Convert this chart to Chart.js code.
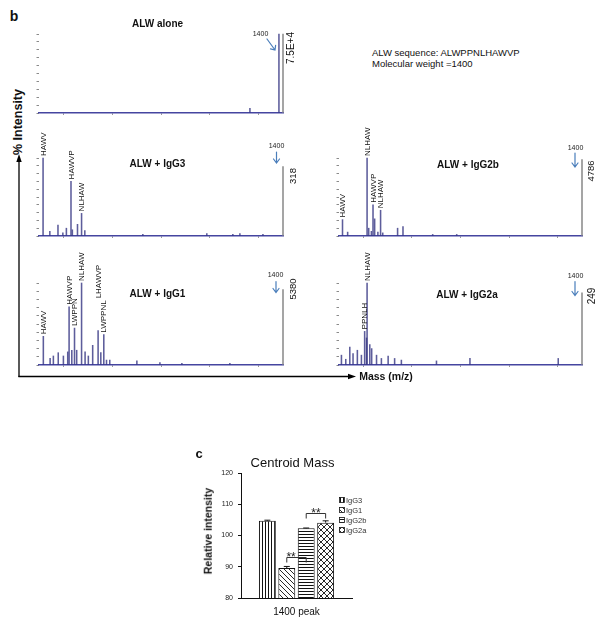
<!DOCTYPE html>
<html><head><meta charset="utf-8">
<script src="https://cdn.jsdelivr.net/npm/chart.js@4"></script>
<style>
html,body{margin:0;padding:0;background:#fff;}
#fig{position:relative;width:602px;height:625px;overflow:hidden;font-family:"Liberation Sans",Arial,sans-serif;background:#fff;}
canvas{position:absolute;}
.t{position:absolute;white-space:nowrap;line-height:1;color:#111;}
</style></head>
<body><div id="fig">
<svg style="position:absolute;left:0;top:0" width="602" height="625">
<line x1="19" y1="160" x2="19" y2="377" stroke="#000" stroke-width="1.3"/>
<polygon points="19,154 16.3,162 21.7,162" fill="#000"/>
<line x1="18.4" y1="376.5" x2="350" y2="376.5" stroke="#000" stroke-width="1.3"/>
<polygon points="356,376.5 348,373.8 348,379.2" fill="#000"/>
</svg>
</div>
<script>
// ---------- data ----------
const massTicks = [500, 680, 860, 1040, 1220, 1400];

const alwAloneMz  = [1278, 1385, 1400];
const alwAloneInt = [6, 100, 100];

const igg3Mz  = [515, 540, 570, 588, 601, 618, 623, 642, 657, 669, 883, 1119, 1215, 1241, 1326, 1400];
const igg3Int = [100, 6, 14, 4, 10, 70, 8, 15, 29, 7, 2, 3, 2, 3, 2, 89];
const igg3LabelNames = ['HAWV', 'HAWVP', 'NLHAW'];
const igg3LabelMz    = [515, 618, 657];

const igg2bMz  = [513, 532, 604, 610, 620, 626, 632, 644, 654, 662, 717, 737, 847, 936, 1400];
const igg2bInt = [21, 5, 100, 10, 6, 40, 22, 5, 33, 4, 10, 12, 2, 2, 98];
const igg2bLabelNames = ['HAWV', 'NLHAW', 'HAWVP', 'NLHAW'];
const igg2bLabelMz    = [513, 604, 626, 654];

const igg1Mz  = [516, 541, 553, 571, 590, 606, 611, 621, 631, 639, 657, 670, 682, 698, 718, 728, 739, 749, 761, 861, 946, 1027, 1204, 1400];
const igg1Int = [35, 8, 11, 15, 11, 16, 71, 18, 45, 18, 100, 16, 11, 24, 42, 15, 37, 6, 6, 5, 3, 2, 2, 92];
const igg1LabelNames = ['HAWV', 'HAWVP', 'LWPPN', 'NLHAW', 'LHAWVP', 'LWPPNL'];
const igg1LabelMz    = [516, 611, 631, 657, 718, 739];

const igg2aMz  = [509, 525, 540, 552, 568, 583, 595, 602, 604, 614, 621, 639, 657, 682, 706, 731, 861, 985, 1312, 1400];
const igg2aInt = [12, 7, 22, 14, 18, 12, 41, 33, 100, 25, 20, 12, 8, 11, 8, 6, 5, 8, 8, 88];
const igg2aLabelNames = ['PPNLH', 'NLHAW'];
const igg2aLabelMz    = [595, 604];

const barCategories = ['1400 peak'];
const barSeries = ['IgG3', 'IgG1', 'IgG2b', 'IgG2a'];
const barValues = [104.7, 89.6, 102.3, 104.1];
const barErrors = [0.2, 0.5, 0.1, 0.6];
const barTicks  = [80, 90, 100, 110, 120];
const sigPairs  = [[1, 2], [2, 3]];
const sigMarks  = ['**', '**'];
const sigLevels = [93.2, 107.2];

// ---------- helpers ----------
const FONT = '"Liberation Sans", Arial, sans-serif';
Chart.defaults.font.family = FONT;
Chart.defaults.color = '#111';
const fig = document.getElementById('fig');

function txt(s, x, y, size, weight, opts) {
  opts = opts || {};
  const d = document.createElement('div');
  d.className = 't'; d.textContent = s;
  d.style.left = x + 'px'; d.style.top = y + 'px';
  d.style.fontSize = size + 'px'; d.style.fontWeight = weight || 'normal';
  let tr = opts.align === 'left' ? 'translate(0,-50%)' : 'translate(-50%,-50%)';
  if (opts.rot) tr += ' rotate(-90deg)';
  d.style.transform = tr;
  fig.appendChild(d);
}

function makeCanvas(left, top, w, h) {
  const cv = document.createElement('canvas');
  cv.width = w; cv.height = h;
  cv.style.left = left + 'px'; cv.style.top = top + 'px';
  cv.style.width = w + 'px'; cv.style.height = h + 'px';
  fig.appendChild(cv);
  return cv;
}

// ---------- spectra ----------
function spectrum(p) {
  const padTop = 33, padRight = 25, yW = 10, xH = 6;
  const w = Math.round(p.right - p.left) + yW + padRight;
  const h = Math.round(p.bottom - p.top) + padTop + xH;
  const cv = makeCanvas(p.left - yW, p.top - padTop, w, h);

  const anno = {
    id: 'specAnno',
    afterDatasetsDraw(chart) {
      const ctx = chart.ctx, xs = chart.scales.x, ys = chart.scales.y;
      const pts = chart.data.datasets[0].data;
      ctx.save();
      ctx.font = '8px ' + FONT;
      ctx.fillStyle = '#111';
      ctx.textAlign = 'left';
      ctx.textBaseline = 'middle';
      const items = p.names.map((n, i) => {
        const pt = pts.find(d => d.x === p.lmz[i]);
        return { n, x: xs.getPixelForValue(pt.x), top: ys.getPixelForValue(pt.y) };
      }).sort((a, b) => b.x - a.x);
      const placed = [];
      items.forEach(it => {
        const tw = ctx.measureText(it.n).width;
        let bottom = it.top - 2, moved = true, guard = 0;
        while (moved && guard++ < 10) {
          moved = false;
          for (const q of placed) {
            if (Math.abs(q.x - it.x) < 7) {
              const ov = Math.min(bottom, q.bottom) - Math.max(bottom - tw, q.bottom - q.w);
              if (ov > 8) { bottom = q.bottom - q.w - 2; moved = true; }
            }
          }
        }
        placed.push({ x: it.x, bottom, w: tw });
        ctx.save();
        ctx.translate(it.x + 0.5, bottom);
        ctx.rotate(-Math.PI / 2);
        ctx.fillText(it.n, 0, 0);
        ctx.restore();
      });
      // 1400 arrow
      const a = p.arrow, x = xs.getPixelForValue(1400), t = chart.chartArea.top;
      ctx.strokeStyle = '#4a7ebb'; ctx.lineWidth = 1.2; ctx.lineCap = 'round';
      ctx.beginPath();
      if (a.diag) {
        const x1 = x - 16, y1 = t + 5, x2 = x - 8, y2 = t + 16;
        ctx.moveTo(x1, y1); ctx.lineTo(x2, y2);
        ctx.moveTo(x2 - 4.5, y2 - 1.2); ctx.lineTo(x2, y2); ctx.lineTo(x2 + 0.6, y2 - 4.6);
      } else {
        const ax = x + a.dx;
        ctx.moveTo(ax, t + a.y1); ctx.lineTo(ax, t + a.y2);
        ctx.moveTo(ax - 3, t + a.y2 - 4); ctx.lineTo(ax, t + a.y2); ctx.lineTo(ax + 3, t + a.y2 - 4);
      }
      ctx.stroke();
      ctx.fillStyle = '#222';
      ctx.font = '7px ' + FONT;
      ctx.textAlign = 'center';
      ctx.fillText('1400', x + a.lx, t + a.ly);
      ctx.restore();
    }
  };

  new Chart(cv, {
    type: 'bar',
    data: {
      datasets: [{
        data: p.mz.map((m, i) => ({ x: m, y: p.int[i] })),
        backgroundColor: c => (c.raw && c.raw.x >= 1400) ? '#8c8c8c' : 'rgba(52,52,130,0.8)',
        barThickness: 0.9,
        borderWidth: 0,
        clip: false
      }]
    },
    options: {
      responsive: false, animation: false, events: [],
      layout: { padding: { top: padTop, right: padRight, left: 0, bottom: 0 } },
      plugins: { legend: { display: false }, tooltip: { enabled: false } },
      scales: {
        x: {
          type: 'linear', min: 500, max: 1400, offset: false,
          afterBuildTicks: s => { s.ticks = massTicks.map(v => ({ value: v })); },
          afterFit: s => { s.height = xH; },
          grid: { display: true, drawOnChartArea: false, drawTicks: true, tickLength: 2, color: '#9a9a9a' },
          border: { display: true, color: '#4545a0', width: 1.4 },
          ticks: { display: false }
        },
        y: {
          min: 0, max: 100,
          afterBuildTicks: s => { const t = []; for (let v = 0; v <= 100; v += 10) t.push({ value: v }); s.ticks = t; },
          afterFit: s => { s.width = yW; },
          grid: { display: true, drawOnChartArea: false, drawTicks: true, tickLength: 2.5, color: '#8a8a8a' },
          border: { display: false },
          ticks: { display: false }
        }
      }
    },
    plugins: [anno]
  });
}

spectrum({ left: 39, right: 283, top: 34, bottom: 113, mz: alwAloneMz, int: alwAloneInt, names: [], lmz: [], arrow: { diag: true, lx: -22.5, ly: 0.5 } });
spectrum({ left: 39, right: 283, top: 158, bottom: 236, mz: igg3Mz, int: igg3Int, names: igg3LabelNames, lmz: igg3LabelMz, arrow: { dx: -6.5, y1: -6, y2: 5, lx: -6.5, ly: -11.5 } });
spectrum({ left: 339, right: 582, top: 158, bottom: 236, mz: igg2bMz, int: igg2bInt, names: igg2bLabelNames, lmz: igg2bLabelMz, arrow: { dx: -7, y1: -5, y2: 9, lx: -6.5, ly: -9.5 } });
spectrum({ left: 39, right: 283, top: 283, bottom: 365, mz: igg1Mz, int: igg1Int, names: igg1LabelNames, lmz: igg1LabelMz, arrow: { dx: -7, y1: -1.5, y2: 9.5, lx: -7.5, ly: -8 } });
spectrum({ left: 339, right: 582, top: 283, bottom: 365, mz: igg2aMz, int: igg2aInt, names: igg2aLabelNames, lmz: igg2aLabelMz, arrow: { dx: -7, y1: -1.5, y2: 12.5, lx: -6.5, ly: -6.5 } });

// ---------- bar chart (c) ----------
function makePattern(kind) {
  const s = (kind === 'v' || kind === 'h') ? 3 : (kind === 'd' ? 5 : 6);
  const c = document.createElement('canvas'); c.width = s; c.height = s;
  const g = c.getContext('2d');
  g.fillStyle = '#fff'; g.fillRect(0, 0, s, s);
  g.fillStyle = '#111'; g.strokeStyle = '#111'; g.lineWidth = 0.9;
  if (kind === 'v') g.fillRect(1, 0, 1, s);
  if (kind === 'h') g.fillRect(0, 1, s, 1);
  if (kind === 'd' || kind === 'x') {
    g.beginPath();
    g.moveTo(-1, -1); g.lineTo(s + 1, s + 1);
    g.moveTo(-1, s - 1); g.lineTo(1, s + 1);
    g.moveTo(s - 1, -1); g.lineTo(s + 1, 1);
    if (kind === 'x') {
      g.moveTo(-1, s + 1); g.lineTo(s + 1, -1);
      g.moveTo(-1, 1); g.lineTo(1, -1);
      g.moveTo(s - 1, s + 1); g.lineTo(s + 1, s - 1);
    }
    g.stroke();
  }
  return g.createPattern(c, 'repeat');
}
const barPatterns = [makePattern('v'), makePattern('d'), makePattern('h'), makePattern('x')];

const barLeft = 195, barTop = 440, barW = 225, barH = 185;
const bcv = makeCanvas(barLeft, barTop, barW, barH);

const barAnno = {
  id: 'barAnno',
  afterDatasetsDraw(chart) {
    const ctx = chart.ctx, ys = chart.scales.y, ca = chart.chartArea;
    ctx.save();
    ctx.strokeStyle = '#111'; ctx.lineWidth = 1;
    // error bars
    barValues.forEach((v, i) => {
      const el = chart.getDatasetMeta(i).data[0];
      const y0 = ys.getPixelForValue(v), y1 = ys.getPixelForValue(v + barErrors[i]);
      ctx.beginPath();
      ctx.moveTo(el.x, y0); ctx.lineTo(el.x, y1);
      ctx.moveTo(el.x - 3, y1); ctx.lineTo(el.x + 3, y1);
      ctx.stroke();
    });
    // significance brackets
    ctx.strokeStyle = '#333';
    ctx.font = '12px ' + FONT;
    sigPairs.forEach((pr, k) => {
      const ea = chart.getDatasetMeta(pr[0]).data[0];
      const eb = chart.getDatasetMeta(pr[1]).data[0];
      const xa = ea.x, xb = eb.x;
      const y = Math.round(ys.getPixelForValue(sigLevels[k])) + 0.5;
      ctx.beginPath();
      ctx.moveTo(xa, y + 5); ctx.lineTo(xa, y); ctx.lineTo(xb, y); ctx.lineTo(xb, y + 5);
      ctx.stroke();
      // keep the mark clear of the right-hand bar when the bracket sits inside it
      let tx = (xa + xb) / 2;
      const tw = ctx.measureText(sigMarks[k]).width;
      if (y > eb.y) tx = Math.min(tx, eb.x - eb.width / 2 - tw / 2 - 2);
      ctx.fillStyle = '#222';
      ctx.textAlign = 'center'; ctx.textBaseline = 'alphabetic';
      ctx.fillText(sigMarks[k], tx, y + 3);
    });
    // legend
    ctx.font = '7.5px ' + FONT;
    ctx.textAlign = 'left'; ctx.textBaseline = 'middle';
    chart.data.datasets.forEach((ds, i) => {
      const bx = ca.right - 12.5, by = ca.top + 27 + i * 10;
      ctx.fillStyle = ds.backgroundColor;
      ctx.fillRect(bx, by - 2.5, 5, 5);
      ctx.strokeStyle = '#111'; ctx.lineWidth = 0.8;
      ctx.strokeRect(bx, by - 2.5, 5, 5);
      ctx.fillStyle = '#333';
      ctx.fillText(ds.label, bx + 6.5, by + 0.5);
    });
    ctx.restore();
  }
};

new Chart(bcv, {
  type: 'bar',
  data: {
    labels: barCategories,
    datasets: barSeries.map((name, i) => ({
      label: name,
      data: [barValues[i]],
      backgroundColor: barPatterns[i],
      borderColor: '#111',
      borderWidth: 1,
      categoryPercentage: 0.7,
      barPercentage: 0.87
    }))
  },
  options: {
    responsive: false, animation: false, events: [],
    layout: { padding: { top: 33, right: 68, left: 0, bottom: 0 } },
    plugins: { legend: { display: false }, tooltip: { enabled: false } },
    scales: {
      x: {
        afterFit: s => { s.height = 27; },
        grid: { display: false, drawTicks: false },
        border: { display: true, color: '#111', width: 1 },
        ticks: { font: { size: 10 }, color: '#111', padding: 8 }
      },
      y: {
        min: 80, max: 120,
        afterBuildTicks: s => { s.ticks = barTicks.map(v => ({ value: v })); },
        afterFit: s => { s.width = 46; },
        grid: { display: true, drawOnChartArea: false, drawTicks: true, tickLength: 3, color: '#111', tickColor: '#111' },
        border: { display: true, color: '#111', width: 1 },
        ticks: { font: { size: 7 }, color: '#222', padding: 5 }
      }
    }
  },
  plugins: [barAnno]
});

// ---------- text ----------
txt('b', 14, 15.5, 14, 'bold');
txt('ALW alone', 157.5, 23.5, 10, 'bold');
txt('ALW sequence: ALWPPNLHAWVP', 372, 52.5, 9.5, 'normal', { align: 'left' });
txt('Molecular weight =1400', 372, 63.5, 9.5, 'normal', { align: 'left' });
txt('7.5E+4', 291, 47.5, 10, 'normal', { rot: true });
txt('% Intensity', 18, 121.5, 12.5, 'bold', { rot: true });
txt('ALW + IgG3', 157.5, 163.5, 10, 'bold');
txt('ALW + IgG2b', 468, 165, 10, 'bold');
txt('ALW + IgG1', 157.5, 293.5, 10, 'bold');
txt('ALW + IgG2a', 467, 294.5, 10, 'bold');
txt('318', 293, 175.8, 9.5, 'normal', { rot: true });
txt('4786', 591, 171.2, 9.5, 'normal', { rot: true });
txt('5380', 293, 289.2, 9.5, 'normal', { rot: true });
txt('249', 591.5, 296.2, 10, 'normal', { rot: true });
txt('Mass (m/z)', 386, 375.5, 10.5, 'bold');
txt('c', 199, 453, 13, 'bold');
txt('Centroid Mass', 292.5, 462, 13, 'normal');
txt('Relative intensity', 208, 530.5, 10.5, 'bold', { rot: true });
</script>
</body></html>
